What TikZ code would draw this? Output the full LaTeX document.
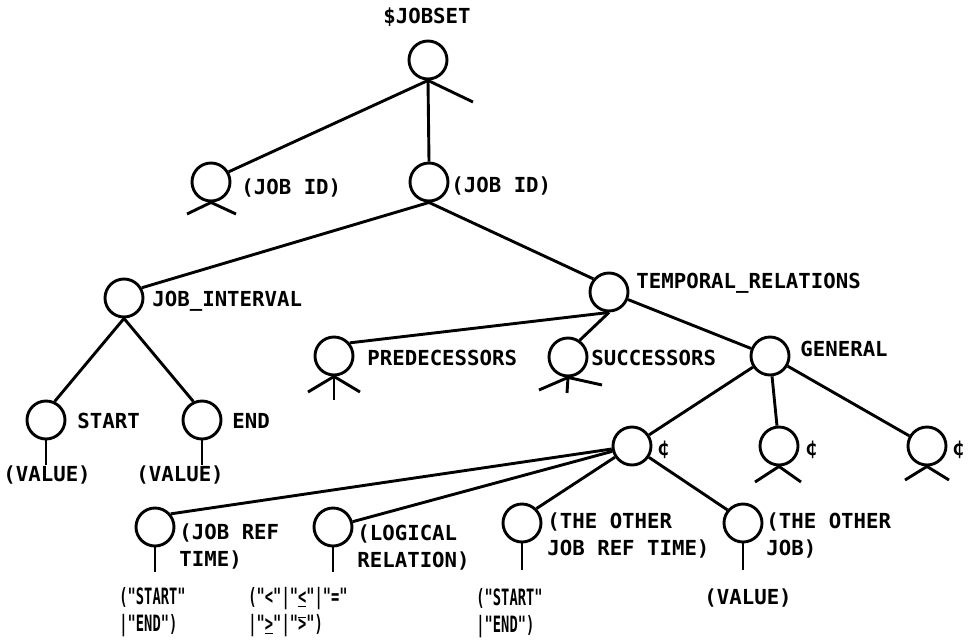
\documentclass[tikz,border=0pt]{standalone}
\usepackage{fontspec}
\newfontfamily\lblfont{DejaVu Sans Mono}
\newfontfamily\condfont{DejaVu Sans Mono}[FakeStretch=0.61]
\newcommand{\ovgt}{$\overline{\hbox{>}}$}
\begin{document}
\begin{tikzpicture}[x=1pt, y=-1pt, line width=2.9pt,
  ent/.style={circle, draw, line width=2.9pt, minimum size=38pt, inner sep=0pt},
  lbl/.style={inner sep=0pt, anchor=base west,
    font=\lblfont\bfseries\fontsize{20.7}{27}\selectfont},
  lbltwo/.style={lbl, align=left, anchor=north west},
  cond/.style={inner sep=0pt, align=left, anchor=north west,
    font=\condfont\bfseries\fontsize{22.5}{27}\selectfont}]
\useasboundingbox (0,0) rectangle (969,643);

% entities
\node[ent] (jobset)   at (428,60)  {};
\node[ent] (jobid1)   at (211,182) {};
\node[ent] (jobid2)   at (429,182) {};
\node[ent] (jobint)   at (124,298) {};
\node[ent] (temporal) at (609,292) {};
\node[ent] (start)    at (46,420)  {};
\node[ent] (endn)     at (202,420) {};
\node[ent] (pred)     at (334,356) {};
\node[ent] (succ)     at (568,357) {};
\node[ent] (general)  at (770,356) {};
\node[ent] (c1)       at (632,446) {};
\node[ent] (c2)       at (779,446) {};
\node[ent] (c3)       at (927,446) {};
\node[ent] (jobref)   at (155,527) {};
\node[ent] (logical)  at (333,527) {};
\node[ent] (other)    at (522,523) {};
\node[ent] (otherjob) at (743,523) {};

% labels
\node[lbl, anchor=base] (tjobset) at (427,23) {\$JOBSET};
\node[lbl] (tjobid1) at (240,194) {(JOB ID)};
\node[lbl] (tjobid2) at (450,192) {(JOB ID)};
\node[lbl] (tjobint) at (151,306) {JOB\_INTERVAL};
\node[lbl] (ttemporal) at (635,288) {TEMPORAL\_RELATIONS};
\node[lbl] (tpred) at (366,365) {PREDECESSORS};
\node[lbl] (tsucc) at (590,365) {SUCCESSORS};
\node[lbl] (tgeneral) at (799,356) {GENERAL};
\node[lbl] (tstart) at (76,428) {START};
\node[lbl] (tend) at (231,428) {END};
\node[lbl] (tval1) at (2,481) {(VALUE)};
\node[lbl] (tval2) at (135,481) {(VALUE)};
\node[lbl, anchor=west] (tc1) at (656,450) {¢};
\node[lbl, anchor=west] (tc2) at (804,450) {¢};
\node[lbl, anchor=west] (tc3) at (951,450) {¢};
\node[lbltwo] (tjobref) at (178,522) {(JOB REF\\TIME)};
\node[lbltwo] (tlogical) at (356,523) {(LOGICAL\\RELATION)};
\node[lbltwo] (tother) at (546,511) {(THE OTHER\\JOB REF TIME)};
\node[lbltwo] (totherjob) at (765,511) {(THE OTHER\\JOB)};
\node[cond] (vjobref) at (118,586) {("START"\\|"END")};
\node[cond] (vlogical) at (247,586) {("<"|"\underline{<}"|"="\\|"\underline{>}"|"\ovgt")};
\node[cond] (vother) at (475,587) {("START"\\|"END")};
\node[lbl] (vval) at (703,604) {(VALUE)};

% free ends of stubs and feet
\coordinate (sjobset) at (473,102);
\coordinate (fa1) at (187,214);  \coordinate (fa2) at (236,214);
\coordinate (fp1) at (308,392);  \coordinate (fp2) at (334,400);  \coordinate (fp3) at (360,392);
\coordinate (fs1) at (539,390);  \coordinate (fs2) at (567,393);  \coordinate (fs3) at (602,385);
\coordinate (fc21) at (755,482); \coordinate (fc22) at (801,482);
\coordinate (fc31) at (905,480); \coordinate (fc32) at (949,480);
\coordinate (sstart) at (46,465);
\coordinate (send) at (202,465);
\coordinate (sjobref) at (155,572);
\coordinate (slogical) at (333,572);
\coordinate (sother) at (522,570);
\coordinate (sotherjob) at (743,570);

% connectors
\draw (jobset.south) -- (jobid1.30);
\draw (jobset.south) -- (jobid2.north);
\draw (jobset.south) -- (sjobset);
\draw (jobid1.south) -- (fa1);
\draw (jobid1.south) -- (fa2);
\draw (jobid2.south) -- (jobint.30);
\draw (jobid2.south) -- (temporal.140);
\draw (jobint.south) -- (start.65);
\draw (jobint.south) -- (endn.115);
\draw (start.south) -- (sstart);
\draw (endn.south) -- (send);
\draw (temporal.south) -- (pred.40);
\draw (temporal.south) -- (succ.55);
\draw (temporal) -- (general);
\draw (pred.south) -- (fp1);
\draw (pred.south) -- (fp2);
\draw (pred.south) -- (fp3);
\draw (succ.south) -- (fs1);
\draw (succ.south) -- (fs2);
\draw (succ.south) -- (fs3);
\draw (general) -- (c1);
\draw (general) -- (c2);
\draw (general) -- (c3);
\draw (c2.south) -- (fc21);
\draw (c2.south) -- (fc22);
\draw (c3.south) -- (fc31);
\draw (c3.south) -- (fc32);
\draw (c1) -- (jobref.40);
\draw (c1) -- (logical);
\draw (c1) -- (other.45);
\draw (c1) -- (otherjob.140);
\draw (jobref.south) -- (sjobref);
\draw (logical.south) -- (slogical);
\draw (other.south) -- (sother);
\draw (otherjob.south) -- (sotherjob);
\end{tikzpicture}
\end{document}
